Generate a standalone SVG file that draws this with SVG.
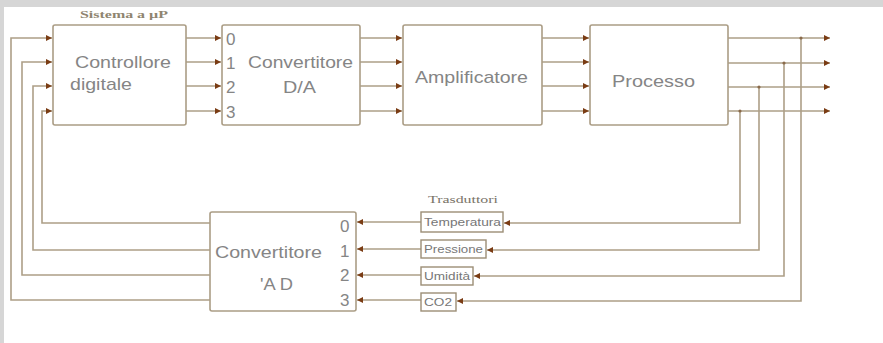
<svg xmlns="http://www.w3.org/2000/svg" width="883" height="343" viewBox="0 0 883 343">
<defs>
<marker id="ar" viewBox="0 0 6 6" refX="6" refY="3" markerWidth="6" markerHeight="7" markerUnits="userSpaceOnUse" orient="auto">
<path d="M0,0 L6,3 L0,6 Z" fill="#7a3c14"/>
</marker>
<style>
.box{fill:#fff;stroke:#ab9d85;stroke-width:1.6}
.tb{fill:#fff;stroke:#9c8e76;stroke-width:1.4}
.ln{fill:none;stroke:#ad9f87;stroke-width:1.6}
.lna{fill:none;stroke:#ad9f87;stroke-width:1.6;marker-end:url(#ar)}
.t{font-family:"Liberation Sans",Arial,sans-serif;font-size:17px;fill:#858585}
.s{font-family:"Liberation Sans",Arial,sans-serif;font-size:11px;fill:#777777}
.h{font-family:"Liberation Serif","Times New Roman",serif;font-size:10px;font-weight:bold;fill:#8f8570}
.dot{fill:#8a6a4a}
</style>
</defs>
<rect x="0" y="0" width="883" height="343" fill="#fff"/>
<rect x="0" y="0" width="883" height="7" fill="#d6d6d6"/>
<rect x="0" y="0" width="4" height="343" fill="#d6d6d6"/>

<g id="connectors">
<path class="lna" d="M210,300 H11 V38 H52"/>
<path class="lna" d="M210,275 H22 V62 H52"/>
<path class="lna" d="M210,250 H33 V86 H52"/>
<path class="lna" d="M210,223 H42 V111 H52"/>
<path class="lna" d="M186,38 H221"/>
<path class="lna" d="M186,62 H221"/>
<path class="lna" d="M186,86 H221"/>
<path class="lna" d="M186,111 H221"/>
<path class="lna" d="M360,38 H402"/>
<path class="lna" d="M360,62 H402"/>
<path class="lna" d="M360,86 H402"/>
<path class="lna" d="M360,111 H402"/>
<path class="lna" d="M542,38 H589"/>
<path class="lna" d="M542,62 H589"/>
<path class="lna" d="M542,86 H589"/>
<path class="lna" d="M542,111 H589"/>
<path class="lna" d="M728,38 H830"/>
<path class="lna" d="M728,63 H830"/>
<path class="lna" d="M728,87 H830"/>
<path class="lna" d="M728,111 H830"/>
<path class="lna" d="M740,111 V223 H504"/>
<path class="lna" d="M759,87 V250 H487"/>
<path class="lna" d="M784,63 V276 H474"/>
<path class="lna" d="M801,38 V301 H457"/>
<circle class="dot" cx="740" cy="111" r="1.6"/>
<circle class="dot" cx="759" cy="87" r="1.6"/>
<circle class="dot" cx="784" cy="63" r="1.6"/>
<circle class="dot" cx="801" cy="38" r="1.6"/>
<path class="lna" d="M421,222 H357"/>
<path class="lna" d="M421,249 H357"/>
<path class="lna" d="M421,275 H357"/>
<path class="lna" d="M421,300 H357"/>
</g>

<text class="h" x="80" y="18" textLength="88" lengthAdjust="spacingAndGlyphs">Sistema a µP</text>

<g id="controllore">
<rect class="box" x="53" y="25" width="133" height="100" rx="2"/>
<text class="t" x="75" y="68" textLength="96" lengthAdjust="spacingAndGlyphs">Controllore</text>
<text class="t" x="70" y="90" textLength="62" lengthAdjust="spacingAndGlyphs">digitale</text>
</g>

<g id="convertitore-da">
<rect class="box" x="222" y="25" width="138" height="100" rx="2"/>
<text class="t" x="226" y="45">0</text>
<text class="t" x="226" y="69">1</text>
<text class="t" x="226" y="93">2</text>
<text class="t" x="226" y="118">3</text>
<text class="t" x="248" y="68" textLength="105" lengthAdjust="spacingAndGlyphs">Convertitore</text>
<text class="t" x="283" y="93" textLength="33" lengthAdjust="spacingAndGlyphs">D/A</text>
</g>

<g id="amplificatore">
<rect class="box" x="403" y="25" width="139" height="100" rx="2"/>
<text class="t" x="415" y="83" textLength="113" lengthAdjust="spacingAndGlyphs">Amplificatore</text>
</g>

<g id="processo">
<rect class="box" x="590" y="25" width="138" height="100" rx="2"/>
<text class="t" x="612" y="87" textLength="83" lengthAdjust="spacingAndGlyphs">Processo</text>
</g>

<g id="convertitore-ad">
<rect class="box" x="210" y="212" width="146" height="99" rx="2"/>
<text class="t" x="215" y="258" textLength="107" lengthAdjust="spacingAndGlyphs">Convertitore</text>
<text class="t" x="260" y="290" textLength="33" lengthAdjust="spacingAndGlyphs">'A D</text>
<text class="t" x="340" y="232">0</text>
<text class="t" x="340" y="257">1</text>
<text class="t" x="340" y="281">2</text>
<text class="t" x="340" y="306">3</text>
</g>

<text class="h" x="428" y="203" textLength="70" lengthAdjust="spacingAndGlyphs" style="font-weight:normal;fill:#7a7468">Trasduttori</text>

<g id="temperatura">
<rect class="tb" x="421" y="212" width="82" height="20"/>
<text class="s" x="424" y="226" textLength="77" lengthAdjust="spacingAndGlyphs">Temperatura</text>
</g>
<g id="pressione">
<rect class="tb" x="421" y="240" width="65" height="18"/>
<text class="s" x="424" y="253" textLength="59" lengthAdjust="spacingAndGlyphs">Pressione</text>
</g>
<g id="umidita">
<rect class="tb" x="421" y="267" width="52" height="18"/>
<text class="s" x="424" y="280" textLength="46" lengthAdjust="spacingAndGlyphs">Umidità</text>
</g>
<g id="co2">
<rect class="tb" x="421" y="293" width="35" height="18"/>
<text class="s" x="424" y="306" textLength="28" lengthAdjust="spacingAndGlyphs">CO2</text>
</g>
</svg>
